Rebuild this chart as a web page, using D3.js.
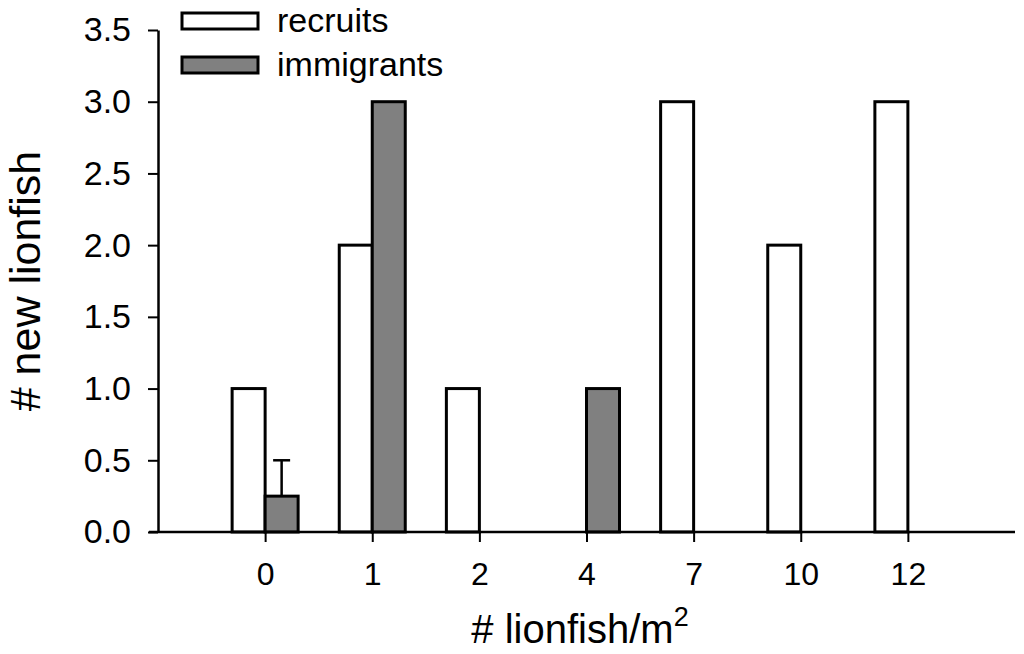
<!DOCTYPE html>
<html>
<head>
<meta charset="utf-8">
<script src="https://cdn.jsdelivr.net/npm/d3@7"></script>
<style>
html,body{margin:0;padding:0;background:#fff;}
svg{display:block;font-family:"Liberation Sans",Arial,sans-serif;}
</style>
</head>
<body>
<svg id="chart" width="1024" height="654"></svg>
<script>
const categories = ["0","1","2","4","7","10","12"];
const recruits = [1,2,1,0,3,2,3];
const immigrants = [0.25,3,0,1,0,0,0];
const immigrantsErr = [0.25,0,0,0,0,0,0];
const yTicks = [0,0.5,1,1.5,2,2.5,3,3.5];
const seriesNames = ["recruits","immigrants"];
const seriesFill = ["#ffffff","#808080"];

const svg = d3.select("#chart");
const L = 158, R = 1015, T = 30, B = 532;
const x = d3.scalePoint().domain(categories).range([L, R]).padding(1);
const y = d3.scaleLinear().domain([0,3.5]).range([B, T]);
const bw = 33;

// bars
const g = svg.append("g");
const series = [recruits, immigrants];
series.forEach((vals, si) => {
  g.selectAll(".s"+si).data(categories.map((c,i)=>({c, v: vals[i]})).filter(d=>d.v>0))
    .enter().append("rect")
    .attr("x", d => x(d.c) + (si===0 ? -bw : 0))
    .attr("y", d => y(d.v))
    .attr("width", bw)
    .attr("height", d => y(0) - y(d.v))
    .attr("fill", seriesFill[si])
    .attr("stroke", "#000")
    .attr("stroke-width", 3);
});

// error bars (upper only)
categories.forEach((c,i) => {
  if (immigrantsErr[i] > 0) {
    const cx = x(c) + bw/2;
    g.append("line").attr("x1",cx).attr("x2",cx)
      .attr("y1", y(immigrants[i])).attr("y2", y(immigrants[i]+immigrantsErr[i]))
      .attr("stroke","#000").attr("stroke-width",2.5);
    g.append("line").attr("x1",cx-8.5).attr("x2",cx+8.5)
      .attr("y1", y(immigrants[i]+immigrantsErr[i])).attr("y2", y(immigrants[i]+immigrantsErr[i]))
      .attr("stroke","#000").attr("stroke-width",2.5);
  }
});

// y axis
const ya = svg.append("g").attr("transform",`translate(${L},0)`)
  .call(d3.axisLeft(y).tickValues(yTicks).tickFormat(d3.format(".1f")).tickSize(10).tickPadding(17).tickSizeOuter(0));
ya.select(".domain").attr("stroke-width",2.5);
ya.selectAll(".tick line").attr("stroke-width",2);
ya.selectAll("text").attr("font-size",34).attr("fill","#000").attr("font-family","Liberation Sans, Arial, sans-serif");

// x axis
const xa = svg.append("g").attr("transform",`translate(0,${B})`)
  .call(d3.axisBottom(x).tickSize(10).tickPadding(20).tickSizeOuter(0));
xa.select(".domain").attr("d", `M${L-9},0H${R}`).attr("stroke-width",2.5);
xa.selectAll(".tick line").attr("stroke-width",2);
xa.selectAll("text").attr("font-size",32).attr("fill","#000").attr("font-family","Liberation Sans, Arial, sans-serif");

// axis titles
svg.append("text").attr("transform","translate(40,281) rotate(-90)")
  .attr("text-anchor","middle").attr("font-size",43).text("# new lionfish");
const xt = svg.append("text").attr("x",580).attr("y",643).attr("text-anchor","middle").attr("font-size",40);
xt.append("tspan").text("# lionfish/m");
xt.append("tspan").attr("font-size",27).attr("dy",-17).text("2");

// legend
const lg = svg.append("g");
seriesNames.forEach((n,i) => {
  const yy = 13 + i*44;
  lg.append("rect").attr("x",182).attr("y",yy).attr("width",76).attr("height",16)
    .attr("fill",seriesFill[i]).attr("stroke","#000").attr("stroke-width",3);
  lg.append("text").attr("x",277).attr("y",yy+19).attr("font-size",34).text(n);
});
</script>
</body>
</html>
